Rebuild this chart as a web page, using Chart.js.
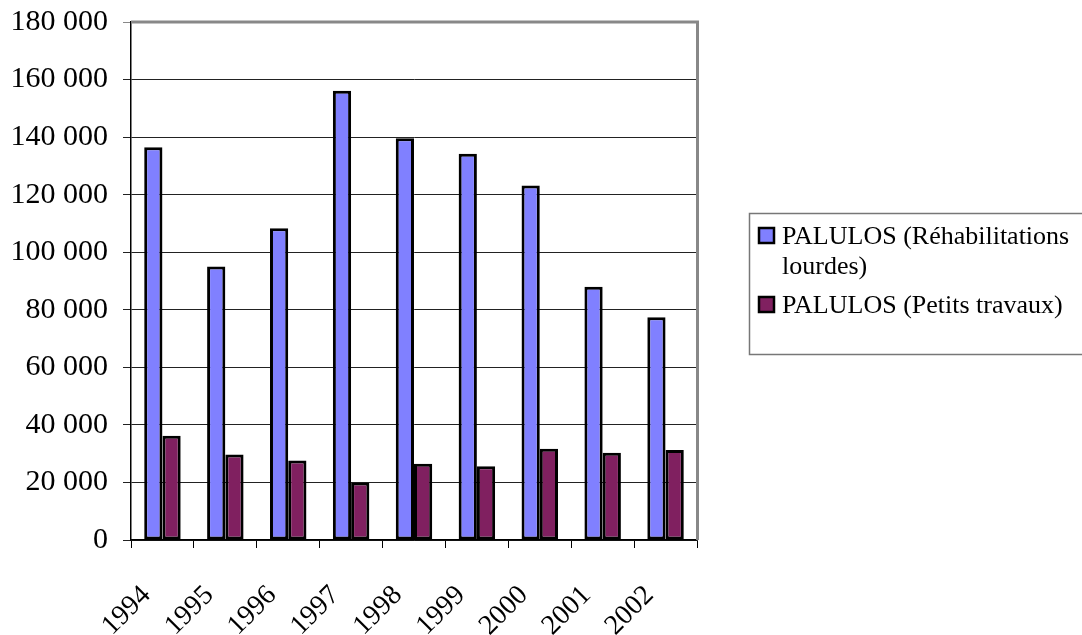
<!DOCTYPE html>
<html>
<head>
<meta charset="utf-8">
<script src="https://cdn.jsdelivr.net/npm/chart.js@4/dist/chart.umd.min.js"></script>
<style>
  html, body { margin: 0; padding: 0; background: #fff; }
  #chart { display: block; }
</style>
</head>
<body>
<canvas id="chart" width="1082" height="635"></canvas>
<script>
const years = ['1994', '1995', '1996', '1997', '1998', '1999', '2000', '2001', '2002'];
const lourdes = [136500, 95000, 108300, 156100, 139600, 134200, 123200, 88000, 77400];
const petits = [36200, 29700, 27600, 20000, 26500, 25600, 31700, 30300, 31300];
const seriesNames = ['PALULOS (Réhabilitations lourdes)', 'PALULOS (Petits travaux)'];
const yTicks = [0, 20000, 40000, 60000, 80000, 100000, 120000, 140000, 160000, 180000];

const SERIF = "'Liberation Serif', 'Times New Roman', serif";
const BLUE = '#8080ff';
const PLUM = '#802060';

function spaced(v) {
    return String(v).replace(/\B(?=(\d{3})+(?!\d))/g, ' ');
}

// plot frame (grey top/right edge), slanted year labels and the boxed legend
const framePlugin = {
    id: 'frame',
    afterDraw(chart) {
        const ctx = chart.ctx;
        const a = chart.chartArea;
        const xs = chart.scales.x;
        ctx.save();
        ctx.strokeStyle = '#888';
        ctx.lineWidth = 3;
        ctx.beginPath();
        ctx.moveTo(a.left, a.top);
        ctx.lineTo(a.right + 0.5, a.top);
        ctx.lineTo(a.right + 0.5, a.bottom);
        ctx.stroke();

        // year labels, rotated 45 degrees, ending just left of each category centre
        ctx.font = '28px ' + SERIF;
        ctx.fillStyle = '#000';
        ctx.textAlign = 'right';
        ctx.textBaseline = 'middle';
        years.forEach((y, i) => {
            const px = xs.getPixelForTick(i);
            ctx.save();
            ctx.translate(px - 16, a.bottom + 51);
            ctx.rotate(-Math.PI / 4);
            ctx.fillText(y, 0, 0);
            ctx.restore();
        });

        // legend box
        ctx.lineWidth = 1.5;
        ctx.strokeStyle = '#777';
        ctx.strokeRect(749.5, 213.5, 345, 141);

        const items = [
            { color: BLUE, lines: ['PALULOS (Réhabilitations', 'lourdes)'], sq: 227, base: 243.5 },
            { color: PLUM, lines: ['PALULOS (Petits travaux)'], sq: 296, base: 312.5 }
        ];
        ctx.font = '26px ' + SERIF;
        ctx.textBaseline = 'alphabetic';
        ctx.textAlign = 'left';
        items.forEach(it => {
            ctx.fillStyle = it.color;
            ctx.fillRect(759, it.sq + 1, 15, 15);
            ctx.strokeStyle = '#000';
            ctx.lineWidth = 2.5;
            ctx.strokeRect(759, it.sq + 1, 15, 15);
            ctx.fillStyle = '#000';
            it.lines.forEach((t, i) => ctx.fillText(t, 782, it.base + i * 30.5));
        });
        ctx.restore();
    }
};

new Chart(document.getElementById('chart'), {
    type: 'bar',
    data: {
        labels: years,
        datasets: [
            {
                label: seriesNames[0],
                data: lourdes,
                backgroundColor: BLUE,
                borderColor: '#000',
                borderWidth: 3,
                borderSkipped: false,
                inflateAmount: 0,
                barPercentage: 1,
                categoryPercentage: 0.58
            },
            {
                label: seriesNames[1],
                data: petits,
                backgroundColor: PLUM,
                borderColor: '#000',
                borderWidth: 3,
                borderSkipped: false,
                inflateAmount: 0,
                barPercentage: 1,
                categoryPercentage: 0.58
            }
        ]
    },
    options: {
        responsive: false,
        animation: false,
        devicePixelRatio: 1,
        layout: { padding: { top: 22, right: 385, left: 0, bottom: 0 } },
        plugins: {
            legend: { display: false },
            title: { display: false },
            tooltip: { enabled: false }
        },
        scales: {
            x: {
                offset: true,
                grid: {
                    offset: true,
                    drawOnChartArea: false,
                    drawTicks: true,
                    tickLength: 8,
                    color: '#000'
                },
                border: { color: '#000', width: 1.5 },
                ticks: { display: false },
                afterFit(scale) { scale.height = 95; }
            },
            y: {
                min: 0,
                max: 180000,
                afterBuildTicks(scale) {
                    scale.ticks = yTicks.map(v => ({ value: v }));
                },
                grid: {
                    color: ctx => (ctx.tick && ctx.tick.value === 180000) ? '#888' : '#222',
                    lineWidth: 1,
                    tickLength: 8
                },
                border: { color: '#000', width: 1.5 },
                ticks: {
                    color: '#000',
                    font: { family: SERIF, size: 30 },
                    padding: 15,
                    callback: v => spaced(v)
                },
                afterFit(scale) {
                    scale.width = 131;
                    // the label padding should not push the plot down
                    scale.paddingTop = 0;
                    scale.paddingBottom = 0;
                }
            }
        }
    },
    plugins: [framePlugin]
});
</script>
</body>
</html>
